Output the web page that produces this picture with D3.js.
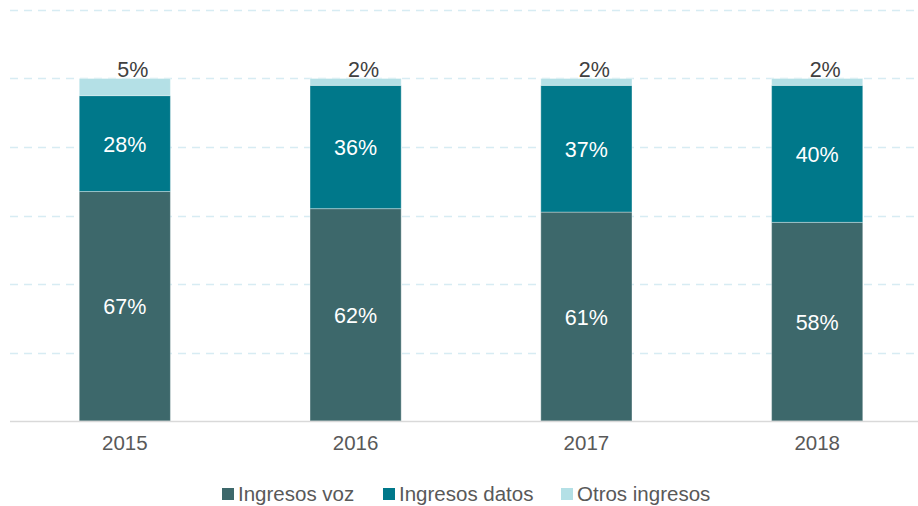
<!DOCTYPE html>
<html lang="es">
<head>
<meta charset="utf-8">
<title>Ingresos</title>
<script src="https://cdn.jsdelivr.net/npm/d3@7"></script>
<style>
  body { margin: 0; background: #fff; }
  text { font-family: "Liberation Sans", Arial, sans-serif; }
</style>
</head>
<body>
<svg width="918" height="506"></svg>
<script>
var years = ["2015", "2016", "2017", "2018"];
var voz = [67, 62, 61, 58];
var datos = [28, 36, 37, 40];
var otros = [5, 2, 2, 2];
var seriesNames = ["Ingresos voz", "Ingresos datos", "Otros ingresos"];
var gridTicks = [20, 40, 60, 80, 100, 120];

var colors = ["#3d686b", "#00788a", "#b4e0e6"];

var svg = d3.select("svg");

var x = d3.scaleBand().domain(years).range([10, 932]).paddingInner(0.605).paddingOuter(0.3);
var y = d3.scaleLinear().domain([0, 120]).range([421, 10]);

var rows = years.map(function(yr, i) {
  return { year: yr, voz: voz[i], datos: datos[i], otros: otros[i] };
});
var stack = d3.stack().keys(["voz", "datos", "otros"]);
var layers = stack(rows);

// dashed gridlines
svg.append("g").selectAll("line")
  .data(gridTicks)
  .enter().append("line")
  .attr("x1", 10).attr("x2", 916)
  .attr("y1", function(d) { return Math.round(y(d)) + 0.5; })
  .attr("y2", function(d) { return Math.round(y(d)) + 0.5; })
  .attr("stroke", "#d7ecf3")
  .attr("stroke-width", 1.5)
  .attr("stroke-dasharray", "8,6");

// bars
var g = svg.append("g");
layers.forEach(function(layer, li) {
  g.selectAll(".s" + li)
    .data(layer)
    .enter().append("rect")
    .attr("x", function(d) { return x(d.data.year); })
    .attr("y", function(d) { return y(d[1]); })
    .attr("width", x.bandwidth())
    .attr("height", function(d) { return y(d[0]) - y(d[1]); })
    .attr("fill", colors[li])
    .attr("stroke", "#ffffff")
    .attr("stroke-opacity", 0.35)
    .attr("stroke-width", 1);
});

// labels inside (voz, datos) and above (otros)
layers.forEach(function(layer, li) {
  g.selectAll(".l" + li)
    .data(layer)
    .enter().append("text")
    .attr("x", function(d) { return x(d.data.year) + x.bandwidth() / 2 + (li === 2 ? 8 : 0); })
    .attr("y", function(d) {
      if (li === 2) return y(d[1]) - 2;
      return (y(d[0]) + y(d[1])) / 2 + 8;
    })
    .attr("text-anchor", "middle")
    .attr("font-size", "21.5px")
    .attr("fill", li === 2 ? "#404040" : "#ffffff")
    .text(function(d) { return (d[1] - d[0]) + "%"; });
});

// baseline and x axis
var xAxis = svg.append("g")
  .attr("transform", "translate(0," + y(0) + ")")
  .call(d3.axisBottom(x).tickSize(0).tickPadding(14));
xAxis.select(".domain").remove();
xAxis.selectAll("text")
  .attr("font-size", "20.5px")
  .attr("fill", "#595959")
  .style("font-family", "Liberation Sans, Arial, sans-serif");

svg.append("line")
  .attr("x1", 10).attr("x2", 918)
  .attr("y1", y(0) + 0.5).attr("y2", y(0) + 0.5)
  .attr("stroke", "#d9d9d9")
  .attr("stroke-width", 1.5);

// legend
var legendX = [222, 383, 561];
var legend = svg.append("g");
seriesNames.forEach(function(name, i) {
  legend.append("rect")
    .attr("x", legendX[i]).attr("y", 488)
    .attr("width", 12).attr("height", 12)
    .attr("fill", colors[i]);
  legend.append("text")
    .attr("x", legendX[i] + 16).attr("y", 501)
    .attr("font-size", "20.5px")
    .attr("fill", "#595959")
    .text(name);
});
</script>
</body>
</html>
